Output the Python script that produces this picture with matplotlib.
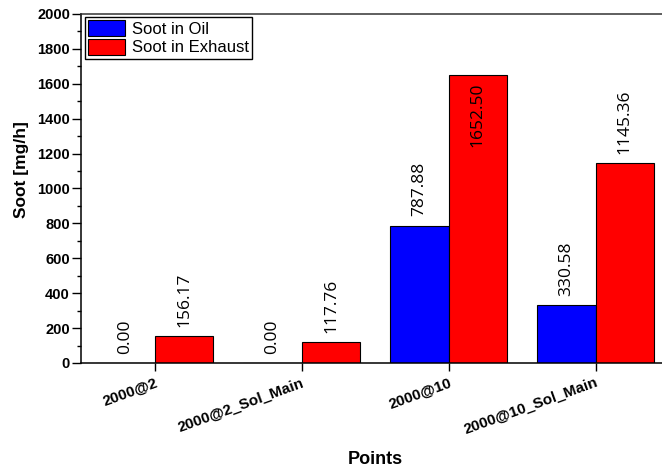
import numpy as np
import matplotlib
matplotlib.use("Agg")
import matplotlib.pyplot as plt
from matplotlib.ticker import MultipleLocator

points = ["2000@2", "2000@2_Sol_Main", "2000@10", "2000@10_Sol_Main"]
soot_oil = [0.00, 0.00, 787.88, 330.58]
soot_exhaust = [156.17, 117.76, 1652.50, 1145.36]

plt.rcParams['font.family'] = ['Liberation Sans', 'DejaVu Sans']

fig = plt.figure(figsize=(6.62, 4.74), dpi=100)
ax = fig.add_axes([0.1224, 0.2342, 0.8882, 0.7363])

x = np.arange(1, len(points) + 1)
w = 0.4
b_oil = ax.bar(x - w / 2, soot_oil, w, color='#0000ff', edgecolor='black',
               linewidth=0.8, label='Soot in Oil')
b_exh = ax.bar(x + w / 2, soot_exhaust, w, color='#ff0000', edgecolor='black',
               linewidth=0.8, label='Soot in Exhaust')

ax.set_xlim(0.5, 4.5)
ax.set_ylim(0, 2000)

# value labels, rotated; the tallest one sits inside its bar
for bars, vals in ((b_oil, soot_oil), (b_exh, soot_exhaust)):
    for rect, v in zip(bars, vals):
        cx = rect.get_x() + rect.get_width() / 2
        if v > 1500:
            ax.annotate(f"{v:.2f}", (cx, v), xytext=(0, -5.5), textcoords='offset points',
                        rotation=90, ha='center', va='top', fontsize=12.5,
                        family=['Open Sans', 'DejaVu Sans'])
        else:
            ax.annotate(f"{v:.2f}", (cx, v), xytext=(0, 6.5), textcoords='offset points',
                        rotation=90, ha='center', va='bottom', fontsize=12.5,
                        family=['Open Sans', 'DejaVu Sans'])

ax.yaxis.set_major_locator(MultipleLocator(200))
ax.yaxis.set_minor_locator(MultipleLocator(100))
ax.tick_params(axis='y', which='major', direction='out', length=6.5, width=1.0,
               labelsize=10.5, pad=1.5)
ax.tick_params(axis='y', which='minor', direction='out', length=3, width=1.0)
ax.tick_params(axis='x', which='major', direction='out', length=6, width=1.0, pad=3)
for lab in ax.get_yticklabels():
    lab.set_fontweight('bold')

ax.set_xticks(x)
ax.set_xticklabels(points, rotation=20, ha='right', rotation_mode='anchor',
                   fontsize=11, fontweight='bold')

for side in ('left', 'bottom', 'top'):
    ax.spines[side].set_linewidth(1.1)
ax.spines['top'].set_color('#333333')
ax.spines['right'].set_visible(False)

ax.set_ylabel('Soot [mg/h]', fontsize=12.5, fontweight='bold')
ax.yaxis.set_label_coords(-0.088, 0.553)
ax.set_xlabel('Points', fontsize=13, fontweight='bold', labelpad=10)

ax.legend(loc='upper left', bbox_to_anchor=(4 / 588, 1 - 3 / 349), borderaxespad=0,
          fancybox=False, edgecolor='black', framealpha=1, fontsize=12,
          labelspacing=0.1, handlelength=2.2, handleheight=1.1,
          borderpad=0.2, handletextpad=0.4)

fig.savefig('out.png', dpi=100)
